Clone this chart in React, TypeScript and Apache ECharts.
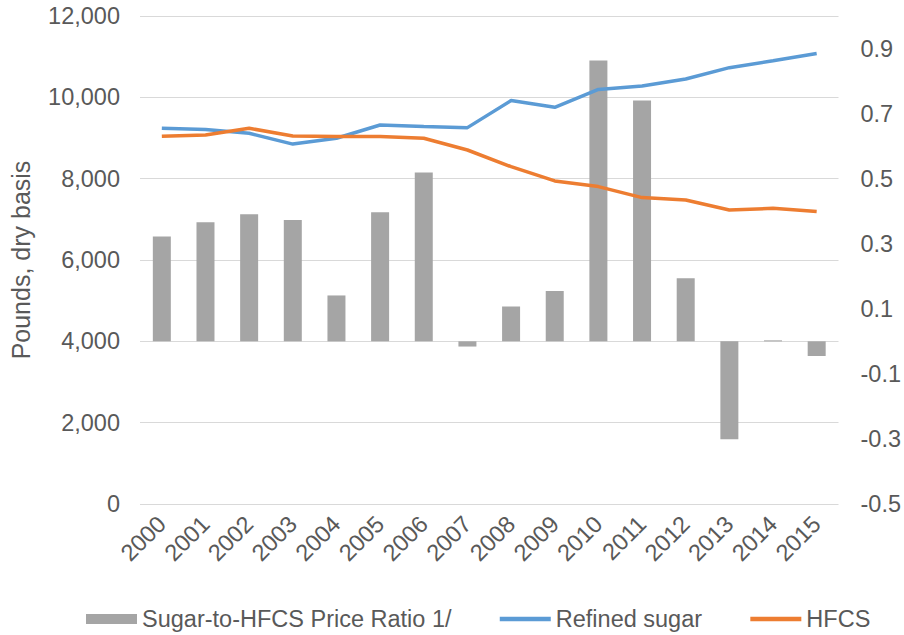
import React, { useEffect, useRef } from "react";
import * as echarts from "echarts";

const years = ["2000","2001","2002","2003","2004","2005","2006","2007","2008","2009","2010","2011","2012","2013","2014","2015"];
const priceRatio = [0.322,0.366,0.391,0.373,0.141,0.397,0.519,-0.016,0.107,0.155,0.863,0.740,0.194,-0.301,0.003,-0.045];
const refinedSugar = [9240,9210,9115,8850,8995,9320,9280,9255,9920,9755,10195,10280,10450,10730,10900,11080];
const hfcs = [9040,9075,9240,9050,9035,9035,8995,8705,8295,7945,7805,7535,7475,7230,7270,7190];
const leftTicks = { min: 0, max: 12000, interval: 2000 };
const rightTicks = { min: -0.5, max: 1.0, interval: 0.2 };

const FONT = "'Liberation Sans', Arial, sans-serif";
const TXT = "#595959";
const FS = 23.5;

export default function App() {
  const ref = useRef<HTMLDivElement>(null);
  useEffect(() => {
    if (!ref.current) return;
    const chart = echarts.init(ref.current, undefined, { renderer: "svg" });
    chart.setOption({
      animation: false,
      backgroundColor: "#ffffff",
      textStyle: { fontFamily: FONT },
      grid: { left: 137, right: 64, top: 16, bottom: 131 },
      legend: {
        left: 81,
        top: 602,
        itemWidth: 51,
        itemHeight: 10,
        itemGap: 46,
        textStyle: { fontSize: FS, color: TXT, fontFamily: FONT },
        data: [
          { name: "Sugar-to-HFCS Price Ratio 1/", icon: "rect" },
          { name: "Refined sugar", itemStyle: { opacity: 0 }, lineStyle: { width: 4.5, color: "#5b9bd5" } },
          { name: "HFCS", itemStyle: { opacity: 0 }, lineStyle: { width: 4.5, color: "#ed7d31" } },
        ],
      },
      xAxis: {
        type: "category",
        data: years,
        axisLine: { show: false },
        axisTick: { show: false },
        axisLabel: { rotate: 45, fontSize: FS, color: TXT, margin: 16, interval: 0 },
      },
      yAxis: [
        {
          type: "value",
          min: leftTicks.min,
          max: leftTicks.max,
          interval: leftTicks.interval,
          name: "Pounds, dry basis",
          nameLocation: "middle",
          nameRotate: 90,
          nameGap: 107,
          nameTextStyle: { fontSize: 25, color: TXT },
          axisLine: { show: false },
          axisTick: { show: false },
          splitLine: { show: true, lineStyle: { color: "#d9d9d9", width: 1 } },
          axisLabel: {
            fontSize: FS,
            color: TXT,
            margin: 20,
            formatter: (v: number) => v.toLocaleString("en-US"),
          },
        },
        {
          type: "value",
          min: rightTicks.min,
          max: rightTicks.max,
          interval: rightTicks.interval,
          axisLine: { show: false },
          axisTick: { show: false },
          splitLine: { show: false },
          axisLabel: {
            fontSize: FS,
            color: TXT,
            margin: 22,
            formatter: (v: number) => (v > 0.95 ? "" : v.toFixed(1)),
          },
        },
      ],
      series: [
        {
          name: "Sugar-to-HFCS Price Ratio 1/",
          type: "bar",
          yAxisIndex: 1,
          data: priceRatio,
          barWidth: 18,
          itemStyle: { color: "#a5a5a5" },
        },
        {
          name: "Refined sugar",
          type: "line",
          yAxisIndex: 0,
          data: refinedSugar,
          symbol: "none",
          lineStyle: { color: "#5b9bd5", width: 3.5 },
          itemStyle: { color: "#5b9bd5" },
        },
        {
          name: "HFCS",
          type: "line",
          yAxisIndex: 0,
          data: hfcs,
          symbol: "none",
          lineStyle: { color: "#ed7d31", width: 3.5 },
          itemStyle: { color: "#ed7d31" },
        },
      ],
    });
    return () => chart.dispose();
  }, []);
  return (
    <div
      ref={ref}
      style={{ position: "fixed", left: 0, top: 0, width: 904, height: 635, background: "#fff" }}
    />
  );
}
